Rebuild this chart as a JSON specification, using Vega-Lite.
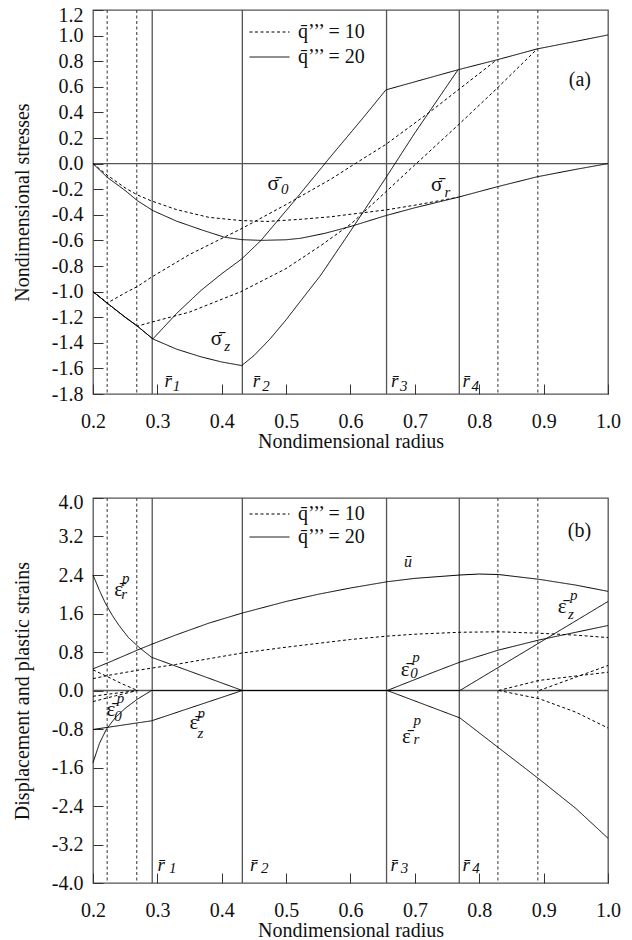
{
"$schema": "https://vega.github.io/schema/vega-lite/v6.json",
"padding": {"left": 11, "top": 4, "right": 5, "bottom": 0},
"spacing": 39,
"config": {
  "font": "Liberation Serif",
  "view": {"stroke": "#555", "strokeWidth": 1.3},
  "axis": {"labelFont": "Liberation Serif", "labelFontSize": 20, "labelColor": "#111", "titleFont": "Liberation Serif", "titleFontSize": 20, "titleFontWeight": "normal", "titleColor": "#111", "tickSize": -10, "tickColor": "#333", "tickWidth": 1, "domain": false, "grid": false, "labelOverlap": false, "labelFlush": false},
  "axisX": {"labelPadding": 27, "titlePadding": 0},
  "axisY": {"labelPadding": 20, "titlePadding": 19},
  "legend": {"orient": "none", "title": null, "symbolType": "stroke", "symbolSize": 1600, "symbolStrokeWidth": 1, "symbolStrokeColor": "black", "labelFont": "Liberation Serif", "labelFontSize": 20, "labelColor": "#111", "labelOffset": 8, "clipHeight": 20, "rowPadding": 5, "padding": 0}
},
"datasets": {
  "radii": [
    {"r": 0.222, "q": "10"}, {"r": 0.268, "q": "10"}, {"r": 0.829, "q": "10"}, {"r": 0.891, "q": "10"},
    {"r": 0.292, "q": "20"}, {"r": 0.432, "q": "20"}, {"r": 0.656, "q": "20"}, {"r": 0.769, "q": "20"}
  ],
  "stress": [
    {"s":"sr","q":"20","r":0.2,"v":0},{"s":"sr","q":"20","r":0.222,"v":-0.107},{"s":"sr","q":"20","r":0.25,"v":-0.21},{"s":"sr","q":"20","r":0.269,"v":-0.29},{"s":"sr","q":"20","r":0.293,"v":-0.367},{"s":"sr","q":"20","r":0.33,"v":-0.45},{"s":"sr","q":"20","r":0.37,"v":-0.52},{"s":"sr","q":"20","r":0.404,"v":-0.575},{"s":"sr","q":"20","r":0.431,"v":-0.594},{"s":"sr","q":"20","r":0.461,"v":-0.6},{"s":"sr","q":"20","r":0.5,"v":-0.595},{"s":"sr","q":"20","r":0.523,"v":-0.583},{"s":"sr","q":"20","r":0.56,"v":-0.545},{"s":"sr","q":"20","r":0.601,"v":-0.49},{"s":"sr","q":"20","r":0.655,"v":-0.406},{"s":"sr","q":"20","r":0.7,"v":-0.345},{"s":"sr","q":"20","r":0.767,"v":-0.263},{"s":"sr","q":"20","r":0.827,"v":-0.182},{"s":"sr","q":"20","r":0.89,"v":-0.103},{"s":"sr","q":"20","r":0.95,"v":-0.045},{"s":"sr","q":"20","r":1.0,"v":0},
    {"s":"st","q":"20","r":0.2,"v":-1.0},{"s":"st","q":"20","r":0.222,"v":-1.09},{"s":"st","q":"20","r":0.25,"v":-1.2},{"s":"st","q":"20","r":0.269,"v":-1.27},{"s":"st","q":"20","r":0.293,"v":-1.37},{"s":"st","q":"20","r":0.33,"v":-1.17},{"s":"st","q":"20","r":0.368,"v":-0.99},{"s":"st","q":"20","r":0.4,"v":-0.86},{"s":"st","q":"20","r":0.431,"v":-0.745},{"s":"st","q":"20","r":0.461,"v":-0.6},{"s":"st","q":"20","r":0.513,"v":-0.29},{"s":"st","q":"20","r":0.57,"v":0.06},{"s":"st","q":"20","r":0.62,"v":0.36},{"s":"st","q":"20","r":0.655,"v":0.576},{"s":"st","q":"20","r":0.767,"v":0.733},{"s":"st","q":"20","r":0.827,"v":0.81},{"s":"st","q":"20","r":0.89,"v":0.896},{"s":"st","q":"20","r":0.95,"v":0.955},{"s":"st","q":"20","r":1.0,"v":1.005},
    {"s":"sz","q":"20","r":0.2,"v":-1.0},{"s":"sz","q":"20","r":0.222,"v":-1.09},{"s":"sz","q":"20","r":0.25,"v":-1.2},{"s":"sz","q":"20","r":0.269,"v":-1.27},{"s":"sz","q":"20","r":0.293,"v":-1.37},{"s":"sz","q":"20","r":0.33,"v":-1.45},{"s":"sz","q":"20","r":0.368,"v":-1.51},{"s":"sz","q":"20","r":0.4,"v":-1.55},{"s":"sz","q":"20","r":0.431,"v":-1.578},{"s":"sz","q":"20","r":0.45,"v":-1.5},{"s":"sz","q":"20","r":0.475,"v":-1.37},{"s":"sz","q":"20","r":0.5,"v":-1.22},{"s":"sz","q":"20","r":0.523,"v":-1.07},{"s":"sz","q":"20","r":0.554,"v":-0.87},{"s":"sz","q":"20","r":0.601,"v":-0.52},{"s":"sz","q":"20","r":0.655,"v":-0.11},{"s":"sz","q":"20","r":0.7,"v":0.24},{"s":"sz","q":"20","r":0.767,"v":0.733},
    {"s":"sr","q":"10","r":0.2,"v":0},{"s":"sr","q":"10","r":0.222,"v":-0.09},{"s":"sr","q":"10","r":0.25,"v":-0.19},{"s":"sr","q":"10","r":0.269,"v":-0.245},{"s":"sr","q":"10","r":0.29,"v":-0.29},{"s":"sr","q":"10","r":0.33,"v":-0.36},{"s":"sr","q":"10","r":0.38,"v":-0.42},{"s":"sr","q":"10","r":0.43,"v":-0.445},{"s":"sr","q":"10","r":0.47,"v":-0.452},{"s":"sr","q":"10","r":0.523,"v":-0.435},{"s":"sr","q":"10","r":0.57,"v":-0.415},{"s":"sr","q":"10","r":0.601,"v":-0.395},{"s":"sr","q":"10","r":0.655,"v":-0.362},{"s":"sr","q":"10","r":0.7,"v":-0.325},{"s":"sr","q":"10","r":0.767,"v":-0.263},
    {"s":"st","q":"10","r":0.2,"v":-1.0},{"s":"st","q":"10","r":0.222,"v":-1.09},{"s":"st","q":"10","r":0.25,"v":-1.01},{"s":"st","q":"10","r":0.269,"v":-0.96},{"s":"st","q":"10","r":0.29,"v":-0.89},{"s":"st","q":"10","r":0.35,"v":-0.71},{"s":"st","q":"10","r":0.43,"v":-0.51},{"s":"st","q":"10","r":0.5,"v":-0.32},{"s":"st","q":"10","r":0.57,"v":-0.12},{"s":"st","q":"10","r":0.601,"v":-0.02},{"s":"st","q":"10","r":0.655,"v":0.15},{"s":"st","q":"10","r":0.725,"v":0.41},{"s":"st","q":"10","r":0.827,"v":0.81},
    {"s":"sz","q":"10","r":0.2,"v":-1.0},{"s":"sz","q":"10","r":0.222,"v":-1.09},{"s":"sz","q":"10","r":0.25,"v":-1.2},{"s":"sz","q":"10","r":0.269,"v":-1.27},{"s":"sz","q":"10","r":0.29,"v":-1.24},{"s":"sz","q":"10","r":0.35,"v":-1.16},{"s":"sz","q":"10","r":0.43,"v":-1.0},{"s":"sz","q":"10","r":0.5,"v":-0.82},{"s":"sz","q":"10","r":0.554,"v":-0.64},{"s":"sz","q":"10","r":0.601,"v":-0.47},{"s":"sz","q":"10","r":0.655,"v":-0.22},{"s":"sz","q":"10","r":0.7,"v":-0.01},{"s":"sz","q":"10","r":0.767,"v":0.3},{"s":"sz","q":"10","r":0.827,"v":0.585},{"s":"sz","q":"10","r":0.89,"v":0.896}
  ],
  "strain": [
    {"s":"u","q":"20","r":0.2,"v":0.45},{"s":"u","q":"20","r":0.222,"v":0.57},{"s":"u","q":"20","r":0.25,"v":0.73},{"s":"u","q":"20","r":0.269,"v":0.84},{"s":"u","q":"20","r":0.291,"v":0.96},{"s":"u","q":"20","r":0.328,"v":1.15},{"s":"u","q":"20","r":0.38,"v":1.4},{"s":"u","q":"20","r":0.432,"v":1.61},{"s":"u","q":"20","r":0.5,"v":1.85},{"s":"u","q":"20","r":0.55,"v":2.0},{"s":"u","q":"20","r":0.6,"v":2.13},{"s":"u","q":"20","r":0.657,"v":2.26},{"s":"u","q":"20","r":0.7,"v":2.33},{"s":"u","q":"20","r":0.77,"v":2.4},{"s":"u","q":"20","r":0.8,"v":2.42},{"s":"u","q":"20","r":0.83,"v":2.41},{"s":"u","q":"20","r":0.893,"v":2.31},{"s":"u","q":"20","r":0.95,"v":2.19},{"s":"u","q":"20","r":1.0,"v":2.06},
    {"s":"u","q":"10","r":0.2,"v":0.246},{"s":"u","q":"10","r":0.222,"v":0.31},{"s":"u","q":"10","r":0.269,"v":0.42},{"s":"u","q":"10","r":0.328,"v":0.54},{"s":"u","q":"10","r":0.38,"v":0.66},{"s":"u","q":"10","r":0.432,"v":0.78},{"s":"u","q":"10","r":0.5,"v":0.9},{"s":"u","q":"10","r":0.55,"v":0.98},{"s":"u","q":"10","r":0.6,"v":1.06},{"s":"u","q":"10","r":0.657,"v":1.13},{"s":"u","q":"10","r":0.7,"v":1.17},{"s":"u","q":"10","r":0.77,"v":1.21},{"s":"u","q":"10","r":0.83,"v":1.22},{"s":"u","q":"10","r":0.893,"v":1.19},{"s":"u","q":"10","r":0.95,"v":1.15},{"s":"u","q":"10","r":1.0,"v":1.1},
    {"s":"er","q":"20","r":0.2,"v":2.4},{"s":"er","q":"20","r":0.21,"v":2.08},{"s":"er","q":"20","r":0.219,"v":1.82},{"s":"er","q":"20","r":0.23,"v":1.56},{"s":"er","q":"20","r":0.24,"v":1.36},{"s":"er","q":"20","r":0.255,"v":1.1},{"s":"er","q":"20","r":0.273,"v":0.88},{"s":"er","q":"20","r":0.291,"v":0.69},{"s":"er","q":"20","r":0.432,"v":0},{"s":"er","q":"20","r":0.657,"v":0},{"s":"er","q":"20","r":0.77,"v":-0.57},{"s":"er","q":"20","r":0.83,"v":-1.19},{"s":"er","q":"20","r":0.893,"v":-1.84},{"s":"er","q":"20","r":0.95,"v":-2.45},{"s":"er","q":"20","r":1.0,"v":-3.07},
    {"s":"et","q":"20","r":0.2,"v":-1.5},{"s":"et","q":"20","r":0.21,"v":-1.1},{"s":"et","q":"20","r":0.221,"v":-0.8},{"s":"et","q":"20","r":0.235,"v":-0.56},{"s":"et","q":"20","r":0.25,"v":-0.37},{"s":"et","q":"20","r":0.269,"v":-0.18},{"s":"et","q":"20","r":0.291,"v":0},{"s":"et","q":"20","r":0.657,"v":0},{"s":"et","q":"20","r":0.727,"v":0.37},{"s":"et","q":"20","r":0.77,"v":0.59},{"s":"et","q":"20","r":0.83,"v":0.84},{"s":"et","q":"20","r":0.893,"v":1.05},{"s":"et","q":"20","r":0.95,"v":1.21},{"s":"et","q":"20","r":1.0,"v":1.35},
    {"s":"ez","q":"20","r":0.2,"v":-0.81},{"s":"ez","q":"20","r":0.291,"v":-0.63},{"s":"ez","q":"20","r":0.432,"v":0},{"s":"ez","q":"20","r":0.77,"v":0},{"s":"ez","q":"20","r":1.0,"v":1.85},
    {"s":"er_a","q":"10","r":0.2,"v":0.43},{"s":"er_a","q":"10","r":0.222,"v":0.29},{"s":"er_a","q":"10","r":0.245,"v":0.14},{"s":"er_a","q":"10","r":0.269,"v":0},
    {"s":"er_b","q":"10","r":0.83,"v":0},{"s":"er_b","q":"10","r":0.893,"v":-0.17},{"s":"er_b","q":"10","r":0.95,"v":-0.45},{"s":"er_b","q":"10","r":1.0,"v":-0.78},
    {"s":"et_a","q":"10","r":0.2,"v":-0.23},{"s":"et_a","q":"10","r":0.235,"v":-0.11},{"s":"et_a","q":"10","r":0.269,"v":0},
    {"s":"et_b","q":"10","r":0.83,"v":0},{"s":"et_b","q":"10","r":0.893,"v":0.21},{"s":"et_b","q":"10","r":1.0,"v":0.38},
    {"s":"ez_a","q":"10","r":0.2,"v":-0.12},{"s":"ez_a","q":"10","r":0.222,"v":-0.08},{"s":"ez_a","q":"10","r":0.269,"v":0},
    {"s":"ez_b","q":"10","r":0.893,"v":0},{"s":"ez_b","q":"10","r":1.0,"v":0.52}
  ],
  "labA": [
    {"k":"sym","t":"σ̄","x":0.471,"y":-0.205},{"k":"sub","t":"0","x":0.492,"y":-0.237},
    {"k":"sym","t":"σ̄","x":0.725,"y":-0.211},{"k":"sub","t":"r","x":0.746,"y":-0.263},
    {"k":"sym","t":"σ̄","x":0.383,"y":-1.414},{"k":"sub","t":"z","x":0.404,"y":-1.461},
    {"k":"r","t":"r̄","x":0.311,"y":-1.745},{"k":"sub","t":"1","x":0.324,"y":-1.78},
    {"k":"r","t":"r̄","x":0.448,"y":-1.745},{"k":"sub","t":"2","x":0.463,"y":-1.78},
    {"k":"r","t":"r̄","x":0.663,"y":-1.745},{"k":"sub","t":"3","x":0.677,"y":-1.78},
    {"k":"r","t":"r̄","x":0.774,"y":-1.745},{"k":"sub","t":"4","x":0.788,"y":-1.78},
    {"k":"panel","t":"(a)","x":0.939,"y":0.61}
  ],
  "labB": [
    {"k":"sym","t":"ε̄","x":0.233,"y":1.955},{"k":"sub","t":"p","x":0.245,"y":2.24},{"k":"sub","t":"r","x":0.244,"y":1.9},
    {"k":"sym","t":"ε̄","x":0.221,"y":-0.54},{"k":"sub","t":"p","x":0.237,"y":-0.25},{"k":"sub","t":"0","x":0.233,"y":-0.64},
    {"k":"sym","t":"ε̄","x":0.35,"y":-0.81},{"k":"sub","t":"p","x":0.3625,"y":-0.57},{"k":"sub","t":"z","x":0.3625,"y":-0.98},
    {"k":"u","t":"ū","x":0.683,"y":2.57},
    {"k":"sym","t":"ε̄","x":0.678,"y":0.31},{"k":"sub","t":"p","x":0.696,"y":0.59},{"k":"sub","t":"0","x":0.693,"y":0.25},
    {"k":"sym","t":"ε̄","x":0.68,"y":-1.09},{"k":"sub","t":"p","x":0.698,"y":-0.72},{"k":"sub","t":"r","x":0.698,"y":-1.12},
    {"k":"sym","t":"ε̄","x":0.922,"y":1.61},{"k":"sub","t":"p","x":0.941,"y":1.89},{"k":"sub","t":"z","x":0.938,"y":1.48},
    {"k":"r","t":"r̄","x":0.3,"y":-3.75},{"k":"sub","t":"1","x":0.318,"y":-3.8},
    {"k":"r","t":"r̄","x":0.444,"y":-3.75},{"k":"sub","t":"2","x":0.461,"y":-3.8},
    {"k":"r","t":"r̄","x":0.662,"y":-3.75},{"k":"sub","t":"3","x":0.678,"y":-3.8},
    {"k":"r","t":"r̄","x":0.774,"y":-3.75},{"k":"sub","t":"4","x":0.789,"y":-3.8},
    {"k":"panel","t":"(b)","x":0.9375,"y":3.18}
  ]
},
"resolve": {"scale": {"strokeDash": "independent"}, "legend": {"strokeDash": "independent"}},
"vconcat": [
  {
    "width": 515, "height": 384,
    "layer": [
      {"data": {"name": "radii"}, "transform": [{"filter": "datum.q == '20'"}],
       "mark": {"type": "rule", "color": "#555", "strokeWidth": 1.3},
       "encoding": {"x": {"field": "r", "type": "quantitative", "scale": {"domain": [0.2, 1.0], "nice": false}}}},
      {"data": {"name": "radii"}, "transform": [{"filter": "datum.q == '10'"}],
       "mark": {"type": "rule", "color": "#333", "strokeWidth": 1, "strokeDash": [3, 2.5]},
       "encoding": {"x": {"field": "r", "type": "quantitative", "scale": {"domain": [0.2, 1.0], "nice": false}}}},
      {"data": {"values": [{}]},
       "mark": {"type": "rule", "color": "#555", "strokeWidth": 1.3},
       "encoding": {"y": {"datum": 0, "type": "quantitative", "scale": {"domain": [-1.8, 1.2], "nice": false}}}},
      {"data": {"name": "stress"},
       "mark": {"type": "line", "color": "black", "strokeWidth": 1},
       "encoding": {
         "x": {"field": "r", "type": "quantitative", "scale": {"domain": [0.2, 1.0], "nice": false},
               "axis": {"title": "Nondimensional radius", "tickCount": 20, "labelOverlap": false, "values": [0.2,0.3,0.4,0.5,0.6,0.7,0.8,0.9,1.0], "labelExpr": "replace(format(datum.value, '.1f'), '\u2212', '-')"}},
         "y": {"field": "v", "type": "quantitative", "scale": {"domain": [-1.8, 1.2], "nice": false},
               "axis": {"title": "Nondimensional stresses", "tickCount": 40, "labelOverlap": false, "values": [-1.8,-1.6,-1.4,-1.2,-1.0,-0.8,-0.6,-0.4,-0.2,0,0.2,0.4,0.6,0.8,1.0,1.2], "labelExpr": "replace(format(datum.value, '.1f'), '\u2212', '-')",
                        "labelOffset": {"condition": {"test": "datum.value > 1.1", "value": 5}, "value": 0}}},
         "strokeDash": {"field": "q", "type": "nominal", "scale": {"domain": ["10", "20"], "range": [[3, 2.5], [1, 0]]},
               "legend": {"legendX": 156, "legendY": 12, "rowPadding": 5, "labelExpr": "'q̄’’’ = ' + datum.label"}},
         "detail": {"field": "s"}
       }},
      {"data": {"name": "labA"}, "transform": [{"filter": "datum.k == 'sym'"}],
       "mark": {"type": "text", "align": "left", "baseline": "alphabetic", "font": "Liberation Serif", "fontSize": 21, "color": "#111"},
       "encoding": {"x": {"field": "x", "type": "quantitative"}, "y": {"field": "y", "type": "quantitative"}, "text": {"field": "t"}}},
      {"data": {"name": "labA"}, "transform": [{"filter": "datum.k == 'sub'"}],
       "mark": {"type": "text", "align": "left", "baseline": "alphabetic", "font": "Liberation Serif", "fontSize": 15, "fontStyle": "italic", "color": "#111"},
       "encoding": {"x": {"field": "x", "type": "quantitative"}, "y": {"field": "y", "type": "quantitative"}, "text": {"field": "t"}}},
      {"data": {"name": "labA"}, "transform": [{"filter": "datum.k == 'r'"}],
       "mark": {"type": "text", "align": "left", "baseline": "alphabetic", "font": "Liberation Serif", "fontSize": 19, "fontStyle": "italic", "color": "#111"},
       "encoding": {"x": {"field": "x", "type": "quantitative"}, "y": {"field": "y", "type": "quantitative"}, "text": {"field": "t"}}},
      {"data": {"name": "labA"}, "transform": [{"filter": "datum.k == 'panel'"}],
       "mark": {"type": "text", "align": "left", "baseline": "alphabetic", "font": "Liberation Serif", "fontSize": 20, "color": "#111"},
       "encoding": {"x": {"field": "x", "type": "quantitative"}, "y": {"field": "y", "type": "quantitative"}, "text": {"field": "t"}}}
    ]
  },
  {
    "width": 515, "height": 385,
    "layer": [
      {"data": {"name": "radii"}, "transform": [{"filter": "datum.q == '20'"}],
       "mark": {"type": "rule", "color": "#555", "strokeWidth": 1.3},
       "encoding": {"x": {"field": "r", "type": "quantitative", "scale": {"domain": [0.2, 1.0], "nice": false}}}},
      {"data": {"name": "radii"}, "transform": [{"filter": "datum.q == '10'"}],
       "mark": {"type": "rule", "color": "#333", "strokeWidth": 1, "strokeDash": [3, 2.5]},
       "encoding": {"x": {"field": "r", "type": "quantitative", "scale": {"domain": [0.2, 1.0], "nice": false}}}},
      {"data": {"values": [{}]},
       "mark": {"type": "rule", "color": "#555", "strokeWidth": 1.3},
       "encoding": {"y": {"datum": 0, "type": "quantitative", "scale": {"domain": [-4, 4], "nice": false}}}},
      {"data": {"name": "strain"},
       "mark": {"type": "line", "color": "black", "strokeWidth": 1},
       "encoding": {
         "x": {"field": "r", "type": "quantitative", "scale": {"domain": [0.2, 1.0], "nice": false},
               "axis": {"title": "Nondimensional radius", "tickCount": 20, "labelOverlap": false, "values": [0.2,0.3,0.4,0.5,0.6,0.7,0.8,0.9,1.0], "labelExpr": "replace(format(datum.value, '.1f'), '\u2212', '-')"}},
         "y": {"field": "v", "type": "quantitative", "scale": {"domain": [-4, 4], "nice": false},
               "axis": {"title": "Displacement and plastic strains", "tickCount": 40, "labelOverlap": false, "values": [-4,-3.2,-2.4,-1.6,-0.8,0,0.8,1.6,2.4,3.2,4], "labelExpr": "replace(format(datum.value, '.1f'), '\u2212', '-')",
                        "labelOffset": {"condition": {"test": "datum.value > 3.9", "value": 4}, "value": 0}}},
         "strokeDash": {"field": "q", "type": "nominal", "scale": {"domain": ["10", "20"], "range": [[3, 2.5], [1, 0]]},
               "legend": {"legendX": 156, "legendY": 6, "rowPadding": 3, "labelExpr": "'q̄’’’ = ' + datum.label"}},
         "detail": {"field": "s"}
       }},
      {"data": {"name": "labB"}, "transform": [{"filter": "datum.k == 'sym'"}],
       "mark": {"type": "text", "align": "left", "baseline": "alphabetic", "font": "Liberation Serif", "fontSize": 21, "color": "#111"},
       "encoding": {"x": {"field": "x", "type": "quantitative"}, "y": {"field": "y", "type": "quantitative"}, "text": {"field": "t"}}},
      {"data": {"name": "labB"}, "transform": [{"filter": "datum.k == 'sub'"}],
       "mark": {"type": "text", "align": "left", "baseline": "alphabetic", "font": "Liberation Serif", "fontSize": 15, "fontStyle": "italic", "color": "#111"},
       "encoding": {"x": {"field": "x", "type": "quantitative"}, "y": {"field": "y", "type": "quantitative"}, "text": {"field": "t"}}},
      {"data": {"name": "labB"}, "transform": [{"filter": "datum.k == 'r'"}],
       "mark": {"type": "text", "align": "left", "baseline": "alphabetic", "font": "Liberation Serif", "fontSize": 19, "fontStyle": "italic", "color": "#111"},
       "encoding": {"x": {"field": "x", "type": "quantitative"}, "y": {"field": "y", "type": "quantitative"}, "text": {"field": "t"}}},
      {"data": {"name": "labB"}, "transform": [{"filter": "datum.k == 'u'"}],
       "mark": {"type": "text", "align": "left", "baseline": "alphabetic", "font": "Liberation Serif", "fontSize": 16, "fontStyle": "italic", "color": "#111"},
       "encoding": {"x": {"field": "x", "type": "quantitative"}, "y": {"field": "y", "type": "quantitative"}, "text": {"field": "t"}}},
      {"data": {"name": "labB"}, "transform": [{"filter": "datum.k == 'panel'"}],
       "mark": {"type": "text", "align": "left", "baseline": "alphabetic", "font": "Liberation Serif", "fontSize": 20, "color": "#111"},
       "encoding": {"x": {"field": "x", "type": "quantitative"}, "y": {"field": "y", "type": "quantitative"}, "text": {"field": "t"}}}
    ]
  }
]
}
